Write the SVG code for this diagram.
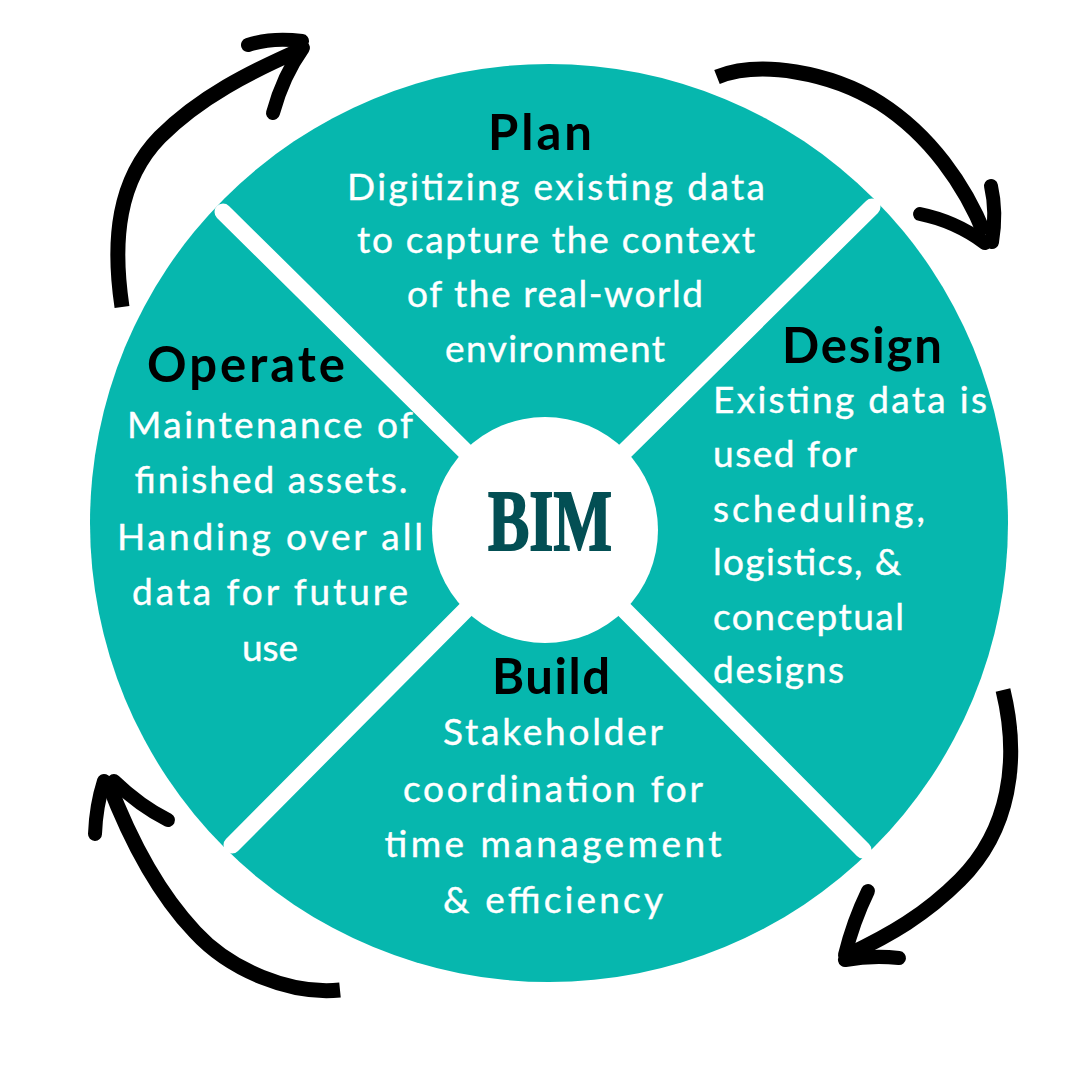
<svg xmlns="http://www.w3.org/2000/svg" width="1080" height="1080" viewBox="0 0 1080 1080">
  <style>
    .title { font-family: Lato, "Liberation Sans", sans-serif; font-weight: bold; font-size: 49px; fill: #000000; }
    .body { font-family: Lato, "Liberation Sans", sans-serif; font-size: 37px; fill: #ffffff; stroke: #ffffff; stroke-width: 0.4; }
    .mid { text-anchor: middle; }
    .divider { stroke: #ffffff; stroke-width: 17; stroke-linecap: round; fill: none; }
    .shaft { stroke: #000000; stroke-width: 15; stroke-linecap: butt; fill: none; }
    .barb { stroke: #000000; stroke-width: 14; stroke-linecap: round; fill: none; }
  </style>
  <rect x="0" y="0" width="1080" height="1080" fill="#ffffff"/>

  <g id="wheel">
    <circle cx="549" cy="523" r="459" fill="#06b7ae"/>
    <line class="divider" x1="223" y1="212" x2="545" y2="530"/>
    <line class="divider" x1="872" y1="207" x2="545" y2="530"/>
    <line class="divider" x1="232" y1="845" x2="545" y2="530"/>
    <line class="divider" x1="863" y1="850" x2="545" y2="530"/>
  </g>

  <g id="bim">
    <circle cx="545" cy="530" r="113" fill="#ffffff"/>
    <text x="550" y="550" text-anchor="middle" font-family="'Liberation Serif', 'DejaVu Serif', serif" font-weight="bold" font-size="86" fill="#034f54" stroke="#034f54" stroke-width="2" textLength="124" lengthAdjust="spacingAndGlyphs">BIM</text>
  </g>

  <g id="plan">
    <text class="title mid" x="540" y="150" textLength="104" lengthAdjust="spacing">Plan</text>
    <text class="body mid" x="556" y="200" textLength="418" lengthAdjust="spacing">Digitizing existing data</text>
    <text class="body mid" x="556" y="253" textLength="398" lengthAdjust="spacing">to capture the context</text>
    <text class="body mid" x="555" y="307" textLength="296" lengthAdjust="spacing">of the real-world</text>
    <text class="body mid" x="555" y="362" textLength="220" lengthAdjust="spacing">environment</text>
  </g>

  <g id="design">
    <text class="title mid" x="862" y="363" textLength="160" lengthAdjust="spacing">Design</text>
    <text class="body" x="713" y="413" textLength="274" lengthAdjust="spacing">Existing data is</text>
    <text class="body" x="713" y="467" textLength="144" lengthAdjust="spacing">used for</text>
    <text class="body" x="713" y="522" textLength="212" lengthAdjust="spacing">scheduling,</text>
    <text class="body" x="713" y="575" textLength="188" lengthAdjust="spacing">logistics, &amp;</text>
    <text class="body" x="713" y="630" textLength="191" lengthAdjust="spacing">conceptual</text>
    <text class="body" x="713" y="683" textLength="131" lengthAdjust="spacing">designs</text>
  </g>

  <g id="build">
    <text class="title mid" x="551" y="694" textLength="118" lengthAdjust="spacing">Build</text>
    <text class="body mid" x="553" y="745" textLength="220" lengthAdjust="spacing">Stakeholder</text>
    <text class="body mid" x="553" y="802" textLength="300" lengthAdjust="spacing">coordination for</text>
    <text class="body mid" x="553" y="857" textLength="337" lengthAdjust="spacing">time management</text>
    <text class="body mid" x="553" y="913" textLength="220" lengthAdjust="spacing">&amp; efficiency</text>
  </g>

  <g id="operate">
    <text class="title mid" x="246" y="382" textLength="198" lengthAdjust="spacing">Operate</text>
    <text class="body mid" x="270" y="438" textLength="286" lengthAdjust="spacing">Maintenance of</text>
    <text class="body mid" x="271" y="493" textLength="273" lengthAdjust="spacing">finished assets.</text>
    <text class="body mid" x="270" y="550" textLength="306" lengthAdjust="spacing">Handing over all</text>
    <text class="body mid" x="270" y="605" textLength="276" lengthAdjust="spacing">data for future</text>
    <text class="body mid" x="270" y="661" textLength="56" lengthAdjust="spacing">use</text>
  </g>

  <g id="connectors">
    <g id="arrow-operate-plan">
      <path class="shaft" d="M122,307 C112,240 118,180 160,137 C200,97 250,72 300,50"/>
      <path class="barb" d="M248,45 Q272,37 302,41" stroke-width="16"/>
      <path class="barb" d="M303,48 Q283,76 273,113" stroke-width="12"/>
    </g>
    <g id="arrow-plan-design">
      <path class="shaft" d="M717,77 C760,60 830,72 880,103 C930,135 965,185 985,235"/>
      <path class="barb" d="M920,214 Q955,221 985,243" stroke-width="14"/>
      <path class="barb" d="M991,186 Q997,212 992,242" stroke-width="15"/>
    </g>
    <g id="arrow-design-build">
      <path class="shaft" d="M1003,690 C1020,760 1010,830 960,880 C925,915 890,935 848,955"/>
      <path class="barb" d="M868,891 Q853,922 845,955" stroke-width="14"/>
      <path class="barb" d="M845,960 Q872,955 899,958" stroke-width="15"/>
    </g>
    <g id="arrow-build-operate">
      <path class="shaft" d="M340,990 C290,995 230,970 195,932 C160,895 130,840 108,782"/>
      <path class="barb" d="M104,781 Q96,806 95,834" stroke-width="15"/>
      <path class="barb" d="M114,781 Q140,806 168,820" stroke-width="13"/>
    </g>
  </g>
</svg>
